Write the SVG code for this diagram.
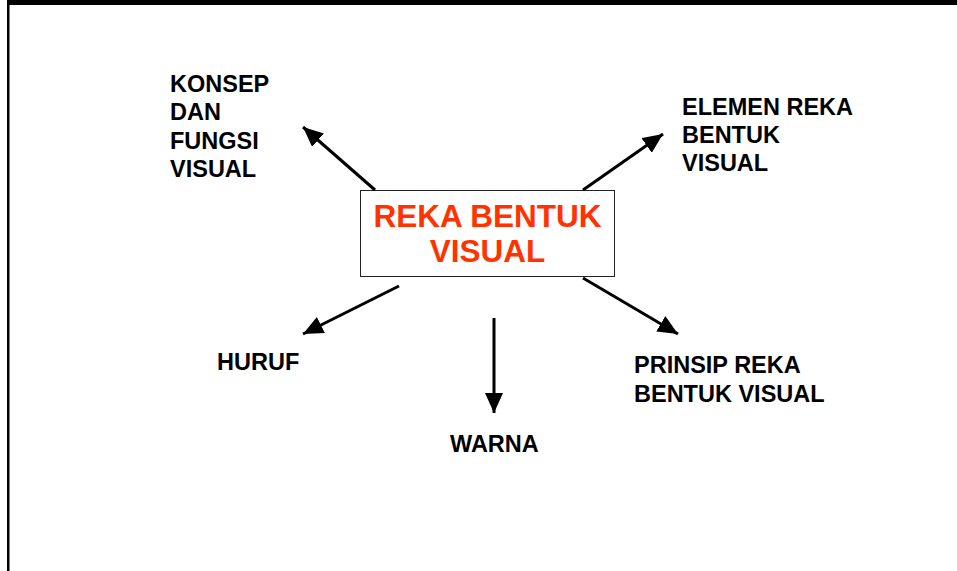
<svg xmlns="http://www.w3.org/2000/svg" width="957" height="571" viewBox="0 0 957 571">
<style>
.lbl{font-family:"Liberation Sans",Arial,sans-serif;font-weight:bold;font-size:23.5px;fill:#000}
.ctr{font-family:"Liberation Sans",Arial,sans-serif;font-weight:bold;font-size:31.5px;fill:#FF3300;text-anchor:middle}
.conn line{stroke:#000;stroke-width:3;marker-end:url(#ah)}
</style>
<defs>
<marker id="ah" markerUnits="userSpaceOnUse" markerWidth="22" markerHeight="18" refX="20" refY="9" orient="auto">
<path d="M0,0 L20,9 L0,18 Z" fill="#000"/>
</marker>
</defs>
<rect width="957" height="571" fill="#fff"/>
<g id="frame">
<rect x="7" y="0" width="950" height="5" fill="#000"/>
<rect x="7" y="0" width="2.5" height="571" fill="#000"/>
</g>
<g id="center">
<rect x="360.5" y="190.5" width="254" height="86" fill="#fff" stroke="#222" stroke-width="1"/>
<text class="ctr" x="487.5" y="227">REKA BENTUK</text>
<text class="ctr" x="487.5" y="262">VISUAL</text>
</g>
<g id="konsep">
<text class="lbl" x="170" y="92">KONSEP</text>
<text class="lbl" x="170" y="120">DAN</text>
<text class="lbl" x="170" y="148.5">FUNGSI</text>
<text class="lbl" x="170" y="177">VISUAL</text>
</g>
<g id="elemen">
<text class="lbl" x="682" y="115">ELEMEN REKA</text>
<text class="lbl" x="682" y="143">BENTUK</text>
<text class="lbl" x="682" y="171">VISUAL</text>
</g>
<g id="huruf">
<text class="lbl" x="217" y="370">HURUF</text>
</g>
<g id="warna">
<text class="lbl" x="450" y="452">WARNA</text>
</g>
<g id="prinsip">
<text class="lbl" x="634" y="373">PRINSIP REKA</text>
<text class="lbl" x="634" y="402">BENTUK VISUAL</text>
</g>
<g id="connectors" class="conn">
<line x1="375" y1="190" x2="303" y2="127"/>
<line x1="583" y1="190" x2="663" y2="134"/>
<line x1="399" y1="286" x2="303" y2="334"/>
<line x1="494" y1="318" x2="494" y2="413"/>
<line x1="583" y1="278" x2="678" y2="334"/>
</g>
</svg>
